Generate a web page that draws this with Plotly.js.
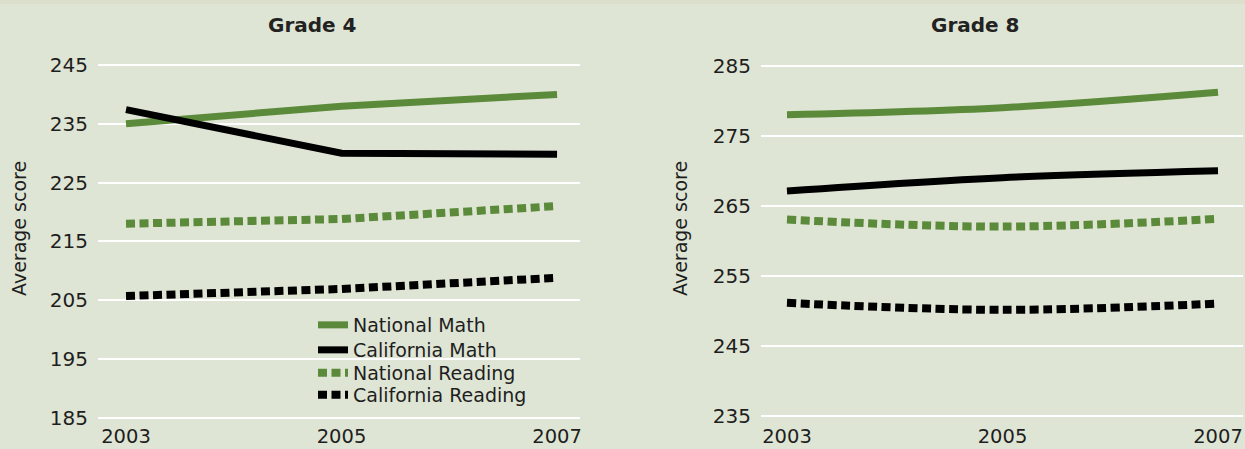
<!DOCTYPE html>
<html>
<head>
<meta charset="utf-8">
<script src="https://cdn.plot.ly/plotly-3.0.1.min.js"></script>
<style>
  html, body { margin: 0; padding: 0; background: #dfe5d4; }
  #chart { width: 1245px; height: 449px; }
</style>
</head>
<body>
<div id="chart"></div>
<script>
// ---- data ----
const years = [2003, 2005, 2007];
const seriesNames = ["National Math", "California Math", "National Reading", "California Reading"];

const grade4NationalMath = [235, 238, 240];
const grade4CaliforniaMath = [237.4, 230, 229.8];
const grade4NationalReading = [218, 218.8, 221];
const grade4CaliforniaReading = [205.7, 206.9, 208.8];

const grade8NationalMath = [278, 279, 281.2];
const grade8CaliforniaMath = [267.1, 269, 270];
const grade8NationalReading = [263, 262, 263.1];
const grade8CaliforniaReading = [251.1, 250.1, 251];

const grade4Ticks = [185, 195, 205, 215, 225, 235, 245];
const grade8Ticks = [235, 245, 255, 265, 275, 285];
const panelTitles = ["Grade 4", "Grade 8"];
const yTitle = "Average score";

// ---- styles ----
const GREEN = "#5b8a3a";
const BLACK = "#000000";
const styles = [
  {color: GREEN, width: 7, dash: "solid"},
  {color: BLACK, width: 7, dash: "solid"},
  {color: GREEN, width: 8, dash: "9px,4.5px"},
  {color: BLACK, width: 8, dash: "9px,4.5px"}
];
const legendIds = ["legend", "legend2", "legend3", "legend4"];
const legendTopPx = [306, 331, 354, 376];

const g4 = [grade4NationalMath, grade4CaliforniaMath, grade4NationalReading, grade4CaliforniaReading];
const g8 = [grade8NationalMath, grade8CaliforniaMath, grade8NationalReading, grade8CaliforniaReading];

const traces = [];
g4.forEach((vals, i) => {
  traces.push({
    x: years, y: vals, type: "scatter", mode: "lines",
    name: seriesNames[i], legend: legendIds[i],
    line: {color: styles[i].color, width: styles[i].width, dash: styles[i].dash, shape: "linear"},
    xaxis: "x", yaxis: "y", showlegend: true, hoverinfo: "x+y+name"
  });
});
g8.forEach((vals, i) => {
  traces.push({
    x: years, y: vals, type: "scatter", mode: "lines",
    name: seriesNames[i],
    line: {color: styles[i].color, width: styles[i].width, dash: styles[i].dash, shape: "spline", smoothing: 1},
    xaxis: "x2", yaxis: "y2", showlegend: false, hoverinfo: "x+y+name"
  });
});

const W = 1245, H = 449;
const MT = 55, MB = 27;
const PH = H - MT - MB;               // plot area height in px
const py = (px) => (H - MB - px) / PH; // pixel row -> paper y

const FONT = "DejaVu Sans, sans-serif";
const tickFont = {family: FONT, size: 20, color: "#1e1e1e"};
const xTickFont = {family: FONT, size: 19.5, color: "#1e1e1e"};

const xCommon = {
  tickmode: "array", tickvals: years, ticktext: years.map(String),
  showgrid: false, zeroline: false, showline: false,
  ticks: "", tickfont: xTickFont, fixedrange: true
};
const yCommon = {
  tickmode: "array", showgrid: true, gridcolor: "#ffffff", gridwidth: 2,
  zeroline: false, showline: false, ticks: "", tickfont: tickFont,
  ticklabelstandoff: 9, fixedrange: true
};

// plot area: top at 55px, bottom at 422px
// grade 4: 245 at 65px, 185 at 417.7px ; grade 8: 285 at 65.7px, 235 at 415.5px
const g4PxPerUnit = (417.7 - 65) / 60;
const g8PxPerUnit = (415.5 - 65.7) / 50;
const plotBottom = H - MB;

const layout = {
  width: W, height: H,
  paper_bgcolor: "#dfe5d4", plot_bgcolor: "#dfe5d4",
  margin: {l: 0, r: 0, t: MT, b: MB, pad: 0},
  showlegend: true,
  xaxis: Object.assign({}, xCommon, {domain: [98 / W, 580 / W], range: [2002.74, 2007.213], anchor: "y"}),
  yaxis: Object.assign({}, yCommon, {tickvals: grade4Ticks,
    range: [185 - (plotBottom - 417.7) / g4PxPerUnit, 245 + (65 - MT) / g4PxPerUnit], anchor: "x"}),
  xaxis2: Object.assign({}, xCommon, {domain: [761 / W, 1243 / W], range: [2002.759, 2007.232], anchor: "y2"}),
  yaxis2: Object.assign({}, yCommon, {tickvals: grade8Ticks,
    range: [235 - (plotBottom - 415.5) / g8PxPerUnit, 285 + (65.7 - MT) / g8PxPerUnit], anchor: "x2"}),
  shapes: [
    {type: "rect", xref: "paper", yref: "paper", x0: 0, x1: 1, y0: py(4), y1: py(0),
     fillcolor: "#dbdfcb", line: {width: 0}, layer: "below"}
  ],
  annotations: [
    {text: "<b>" + panelTitles[0] + "</b>", xref: "paper", yref: "paper", x: 312 / W, y: py(25),
     xanchor: "center", yanchor: "middle", showarrow: false,
     font: {family: FONT, size: 20, color: "#222222"}},
    {text: "<b>" + panelTitles[1] + "</b>", xref: "paper", yref: "paper", x: 975 / W, y: py(25),
     xanchor: "center", yanchor: "middle", showarrow: false,
     font: {family: FONT, size: 20, color: "#222222"}},
    {text: yTitle, xref: "paper", yref: "paper", x: 19 / W, y: py(229), textangle: -90,
     xanchor: "center", yanchor: "middle", showarrow: false,
     font: {family: FONT, size: 19, color: "#1e1e1e"}},
    {text: yTitle, xref: "paper", yref: "paper", x: 680 / W, y: py(229), textangle: -90,
     xanchor: "center", yanchor: "middle", showarrow: false,
     font: {family: FONT, size: 19, color: "#1e1e1e"}}
  ]
};

legendIds.forEach((id, i) => {
  layout[id] = {
    x: 313 / W, y: py(legendTopPx[i]), xanchor: "left", yanchor: "top",
    bgcolor: "rgba(0,0,0,0)", borderwidth: 0,
    font: {family: FONT, size: 19, color: "#1e1e1e"},
    itemwidth: 30
  };
});

Plotly.newPlot("chart", traces, layout, {displayModeBar: false, staticPlot: true});
</script>
</body>
</html>
